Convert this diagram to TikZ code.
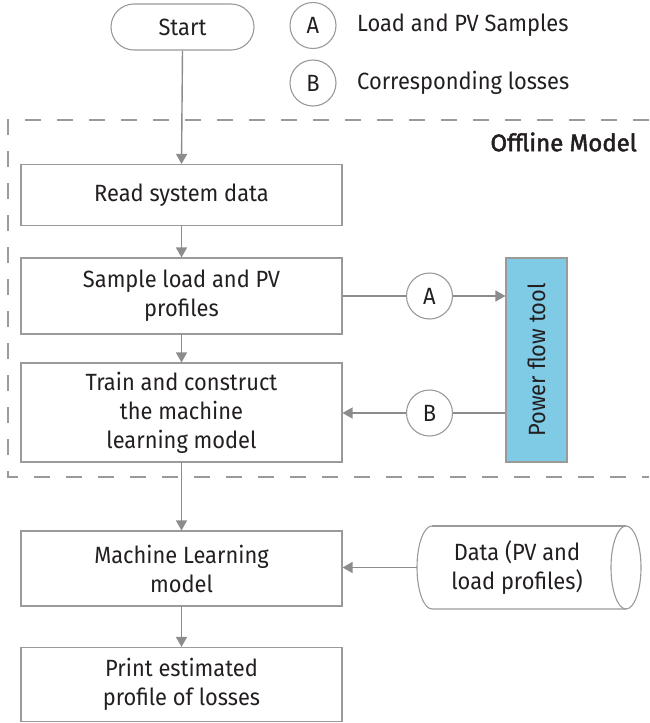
\documentclass[tikz,border=0pt]{standalone}
\usepackage{fontspec}
\setmainfont{Fira Sans}[FakeStretch=0.93]
\newfontfamily\firamed{Fira Sans}[FakeBold=2]
\usetikzlibrary{arrows.meta,calc}
\definecolor{txt}{HTML}{231F20}
\definecolor{ln}{HTML}{8C8C8C}
\definecolor{bd}{HTML}{9A9A9A}
\definecolor{pfblue}{HTML}{7FCBE6}
\tikzset{
  boxline/.style={draw=bd, line width=1.1pt},
  procbox/.style={boxline, rectangle, minimum width=321pt, align=center, text=txt, inner sep=2pt},
  lettercirc/.style={boxline, circle, minimum size=46pt, inner sep=0pt, fill=white, text=txt},
  conn/.style={draw=ln, line width=1.4pt},
  arr/.style={conn, -{Triangle[length=10pt,width=11pt]}},
  lbl/.style={text=txt},
}
\begin{document}
\begin{tikzpicture}[x=1pt,y=-1pt, font=\fontsize{23.5}{29}\selectfont]
\useasboundingbox (0,0) rectangle (649,723);
% dashed frame
\draw[draw=bd, line width=1.2pt, dash pattern=on 16pt off 16pt] (649,120) -- (8,120) -- (8,477) -- (649,477);
\node[lbl, anchor=east, inner sep=0pt, font=\fontsize{24}{26}\selectfont\firamed] (offline) at (637,142) {Offline Model};
% start
\node[boxline, rectangle, rounded corners=23pt, minimum width=143pt, minimum height=46pt, text=txt] (start) at (182.5,27) {Start};
% legend
\node[lettercirc] (legA) at (313,25.5) {A};
\node[lbl, anchor=west, inner sep=0pt] (legAt) at (357,25.5) {Load and PV Samples};
\node[lettercirc] (legB) at (313,83) {B};
\node[lbl, anchor=west, inner sep=0pt] (legBt) at (357,83) {Corresponding losses};
% process boxes
\node[procbox, minimum height=61pt] (read) at (181.5,195) {Read system data};
\node[procbox, minimum height=76pt] (sample) at (181.5,296) {Sample load and PV\\profiles};
\node[procbox, minimum height=99pt] (train) at (181.5,412.5) {Train and construct\\the machine\\learning model};
\node[procbox, minimum height=75pt] (ml) at (181.5,568.5) {Machine Learning\\model};
\node[procbox, minimum height=74pt] (print) at (181.5,684.5) {Print estimated\\profile of losses};
% power flow tool
\node[boxline, fill=pfblue, minimum width=61pt, minimum height=204pt] (pft) at (536.5,360) {};
\node[lbl, rotate=90] (pftt) at (pft.center) {Power flow tool};
% circles on links
\node[lettercirc] (cA) at (429.5,296) {A};
\node[lettercirc] (cB) at (429.5,413) {B};
% data cylinder
\draw[boxline] (432,526) arc[start angle=90, end angle=270, x radius=15pt, y radius=41.5pt] -- (626,609);
\draw[boxline] (432,526) -- (626,526);
\draw[boxline] (626,567.5) ellipse[x radius=15pt, y radius=41.5pt];
\node[lbl, align=center] (data) at (517,567.5) {Data (PV and\\load profiles)};
\coordinate (dataW) at (417,567.5);
% connectors
\draw[arr] (start.south) -- (read.north);
\draw[arr] (read.south) -- (sample.north);
\draw[arr] (sample.south) -- (train.north);
\draw[arr] (train.south) -- (ml.north);
\draw[arr] (ml.south) -- (print.north);
\draw[conn] (sample.east |- cA) -- (cA.west);
\draw[arr] (cA.east) -- (cA.east -| pft.west);
\draw[conn] (cB.east -| pft.west) -- (cB.east);
\draw[arr] (cB.west) -- (cB.west -| train.east);
\draw[arr] (dataW) -- (dataW -| ml.east);
\end{tikzpicture}
\end{document}
